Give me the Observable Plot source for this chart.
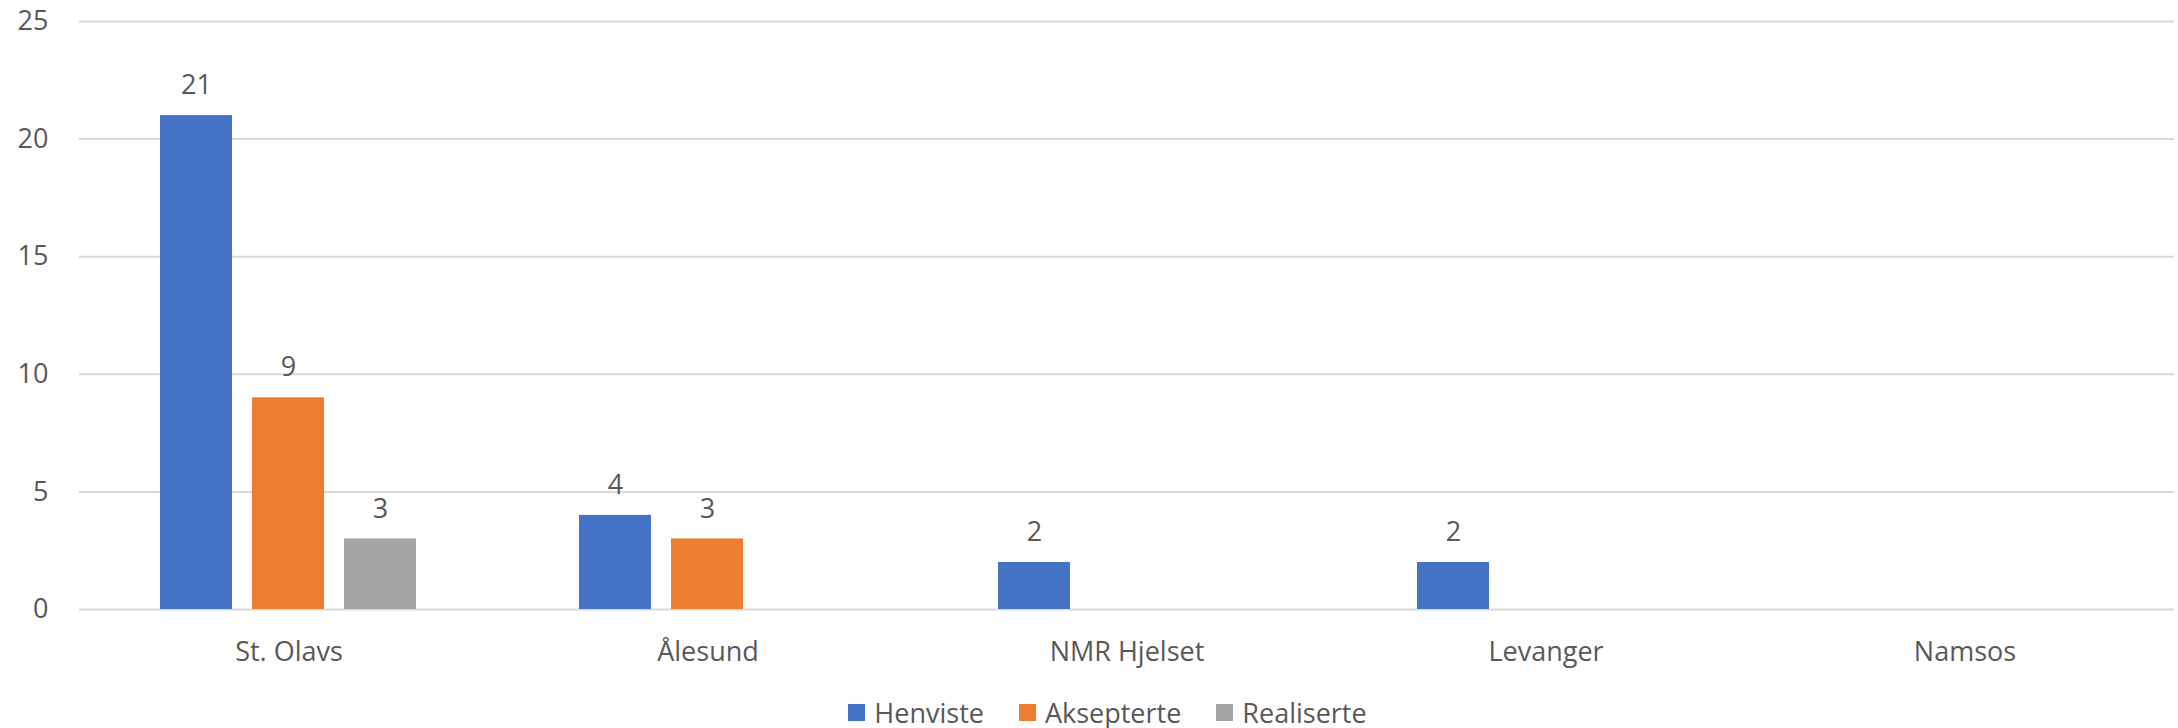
<!DOCTYPE html>
<html>
<head>
<meta charset="utf-8">
<script src="https://cdn.jsdelivr.net/npm/d3@7"></script>
<script src="https://cdn.jsdelivr.net/npm/@observablehq/plot@0.6"></script>
<style>
  html, body { margin: 0; padding: 0; background: #fff; }
  #chart { width: 2178px; }
  #chart svg { display: block; }
  #legend { width: 2178px; box-sizing: border-box; padding-left: 37px; padding-top: 14px; }
  .lg-swatches { justify-content: center !important; font-family: 'Open Sans', sans-serif !important; font-size: 27px !important; color: #595959 !important; margin: 0 !important; }
  .lg-swatch { margin-right: 35px !important; }
  .lg-swatch:last-child { margin-right: 0 !important; }
  .lg-swatch > svg { margin-right: 9px !important; }
</style>
</head>
<body>
<div id="chart"></div>
<div id="legend"></div>
<script>
const categories = ["St. Olavs", "Ålesund", "NMR Hjelset", "Levanger", "Namsos"];
const seriesNames = ["Henviste", "Aksepterte", "Realiserte"];
const henviste = [21, 4, 2, 2, null];
const aksepterte = [9, 3, null, null, null];
const realiserte = [3, null, null, null, null];
const yTicks = [0, 5, 10, 15, 20, 25];
const colors = ["#4472C4", "#ED7D31", "#A5A5A5"];

const valuesBySeries = [henviste, aksepterte, realiserte];
const rows = categories.flatMap((c, i) =>
  seriesNames.map((s, j) => ({ category: c, series: s, value: valuesBySeries[j][i] }))
);
const labelled = rows.filter(d => d.value != null);

const font = "'Open Sans', sans-serif";
const textColor = "#595959";

const plot = Plot.plot({
  width: 2178,
  height: 680,
  marginTop: 21,
  marginBottom: 71,
  marginLeft: 77,
  marginRight: 2,
  style: { fontFamily: font, fontSize: "27px", color: textColor, background: "white", overflow: "visible" },
  fx: { domain: categories, padding: 0, label: null },
  x: { domain: seriesNames, paddingInner: 0.2134, paddingOuter: 0.869, axis: null },
  y: { domain: [0, 25], label: null },
  color: { domain: seriesNames, range: colors },
  marks: [
    Plot.gridY(yTicks, { stroke: "#D9D9D9", strokeOpacity: 1, strokeWidth: 2 }),
    Plot.axisY(yTicks, { tickSize: 0, tickPadding: 31, label: null, fill: textColor }),
    Plot.axisFx({ anchor: "bottom", tickSize: 0, tickPadding: 32, label: null, fill: textColor }),
    Plot.barY(rows, { fx: "category", x: "series", y: "value", fill: "series" }),
    Plot.text(labelled, { fx: "category", x: "series", y: "value", text: d => String(d.value), dy: -30, fill: textColor })
  ]
});
document.getElementById("chart").appendChild(plot);

const legend = Plot.legend({
  color: { domain: seriesNames, range: colors },
  swatchSize: 17,
  className: "lg"
});
document.getElementById("legend").appendChild(legend);
</script>
</body>
</html>
